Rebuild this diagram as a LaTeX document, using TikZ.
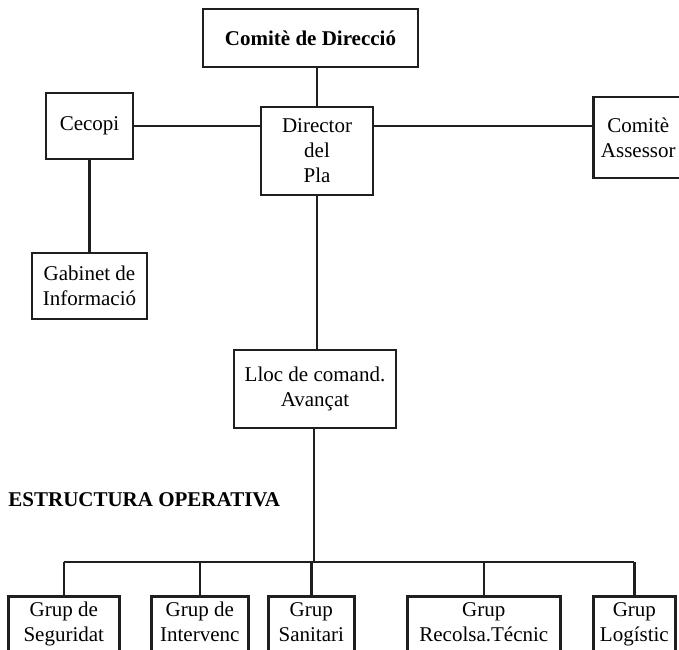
\documentclass[tikz,border=0pt]{standalone}
\usepackage{fontspec}
\setmainfont{Liberation Serif}
\usepackage{tikz}
\usetikzlibrary{arrows,shapes}
\tikzstyle{box}=[draw,line width=1.3pt,color=black!88,text=black,align=center,font=\fontsize{10.5}{12.5}\selectfont]
\tikzstyle{grp}=[box,anchor=north west,text height=19.5pt,text depth=27.5pt]
\tikzstyle{edge} = [draw,line width=1.3pt,color=black!88,-]

\begin{document}
\begin{tikzpicture}[x=0.5pt,y=-0.5pt]
          \clip (0,0) rectangle (679,649);
          \node[box,font=\fontsize{10.5}{12.5}\selectfont\bfseries,minimum width=107.5pt,minimum height=29pt] (comite) at (310.5,38) {Comitè de Direcció};
          \node[box,minimum width=56pt,minimum height=44pt] (director) at (317,151) {Director\\del\\Pla};
          \node[box,minimum width=43.5pt,minimum height=33pt] (cecopi) at (89.5,126) {Cecopi};
          \node[box,minimum width=57.5pt,minimum height=33pt] (gabinet) at (89.5,286) {Gabinet de\\Informació};
          \node[box,anchor=west,text width=41pt,inner xsep=2pt,minimum height=40.5pt] (assessor) at (592,137.5) {Comitè\\Assessor};
          \node[box,minimum width=81pt,minimum height=39pt] (lloc) at (315,389) {Lloc de comand.\\Avançat};
          \node[anchor=west,inner sep=0pt,font=\fontsize{10.5}{12.5}\selectfont\bfseries] (titol) at (8,500) {ESTRUCTURA OPERATIVA};
          \coordinate (bus) at (314,562);
          \node[grp,minimum width=55.5pt] (seg) at (7,595) {Grup de\\Seguridat};
          \node[grp,minimum width=48.5pt] (int) at (150,595) {Grup de\\Intervenc};
          \node[grp,minimum width=43pt] (san) at (267,595) {Grup\\Sanitari};
          \node[grp,minimum width=76.5pt] (rec) at (406,595) {Grup\\Recolsa.Técnic};
          \node[grp,minimum width=40.5pt] (log) at (592,595) {Grup\\Logístic};
          \draw[edge] (comite.south -| director.north) to (director.north);
          \draw[edge] (cecopi.east) to (cecopi.east -| director.west);
          \draw[edge] (director.east |- cecopi.east) to (assessor.west |- cecopi.east);
          \draw[edge] (cecopi.south) to (gabinet.north);
          \draw[edge] (director.south) to (lloc.north -| director.south);
          \draw[edge] (lloc.south -| bus) to (bus);
          \draw[edge] (seg.north |- bus) to (log.north |- bus);
          \foreach \g in {seg,int,san,rec,log}
            \draw[edge] (\g.north) to (\g.north |- bus);
        \end{tikzpicture}
\end{document}
